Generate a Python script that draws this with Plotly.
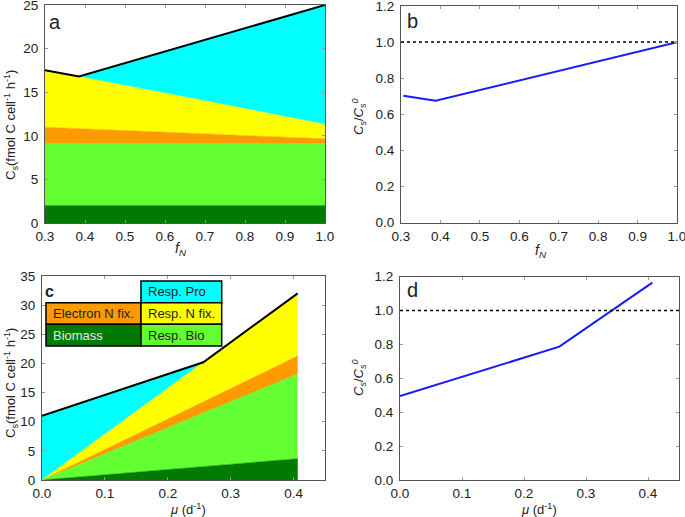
import plotly.graph_objects as go

# ---------------- data ----------------
# panel a : components vs f_N
fN_a = [0.30, 0.385, 1.0]
biomass_a = [2.0, 2.0, 2.0]
resp_bio_a = [7.1, 7.1, 7.1]
elec_nfix_a = [1.89, 1.73, 0.55]
resp_nfix_a = [6.54, 5.97, 1.68]
resp_pro_a = [0.0, 0.0, 13.67]
total_a = [17.53, 16.80, 25.0]

# panel b : Cs/Cs0 vs f_N
fN_b = [0.306, 0.388, 1.0]
ratio_b = [0.703, 0.675, 1.0]

# panel c : components vs mu
mu_c = [0.0, 0.2565, 0.4066]
biomass_c = [0.0, 2.31, 3.66]
resp_bio_c = [0.0, 9.16, 14.52]
elec_nfix_c = [0.0, 1.95, 3.09]
resp_nfix_c = [0.0, 6.78, 10.75]
resp_pro_c = [11.0, 0.0, 0.0]
total_c = [11.0, 20.2, 32.02]

# panel d : Cs/Cs0 vs mu
mu_d = [0.0, 0.257, 0.407]
ratio_d = [0.495, 0.787, 1.165]

names = ["Biomass", "Resp. Bio", "Electron N fix.", "Resp. N fix.", "Resp. Pro"]
colors = ["#007A00", "#63FF33", "#FF9A00", "#FFFF00", "#00FFFF"]

FONT = "Liberation Sans, Arial, sans-serif"
W, H = 685, 517

def px_x(a, b):
    return [a / W, b / W]

def px_y(top, bottom):
    return [1 - bottom / H, 1 - top / H]

fig = go.Figure()

comps_a = [biomass_a, resp_bio_a, elec_nfix_a, resp_nfix_a, resp_pro_a]
for nm, col, vals in zip(names, colors, comps_a):
    fig.add_trace(go.Scatter(x=fN_a, y=vals, stackgroup="a", mode="lines",
                             line=dict(width=0.5, color=col), fillcolor=col,
                             name=nm, showlegend=False, xaxis="x", yaxis="y"))
fig.add_trace(go.Scatter(x=fN_a, y=total_a, mode="lines", line=dict(color="black", width=2),
                         showlegend=False, xaxis="x", yaxis="y"))

fig.add_trace(go.Scatter(x=fN_b, y=ratio_b, mode="lines", line=dict(color="#1a1aff", width=2),
                         showlegend=False, xaxis="x2", yaxis="y2"))

comps_c = [biomass_c, resp_bio_c, elec_nfix_c, resp_nfix_c, resp_pro_c]
for nm, col, vals in zip(names, colors, comps_c):
    fig.add_trace(go.Scatter(x=mu_c, y=vals, stackgroup="c", mode="lines",
                             line=dict(width=0.5, color=col), fillcolor=col,
                             name=nm, showlegend=False, xaxis="x3", yaxis="y3"))
fig.add_trace(go.Scatter(x=mu_c, y=total_c, mode="lines", line=dict(color="black", width=2),
                         showlegend=False, xaxis="x3", yaxis="y3"))

fig.add_trace(go.Scatter(x=mu_d, y=ratio_d, mode="lines", line=dict(color="#1a1aff", width=2),
                         showlegend=False, xaxis="x4", yaxis="y4"))

axcommon = dict(showgrid=False, zeroline=False, showline=True, linecolor="#555", linewidth=1,
                mirror="ticks", ticks="inside", ticklen=3, tickcolor="#999", automargin=False,
                ticklabeloverflow="allow",
                tickfont=dict(family=FONT, size=13.5, color="#222"))
xcommon = dict(ticklabelstandoff=1, **axcommon)
ycommon = dict(ticklabelstandoff=3, **axcommon)

fig.update_layout(
    template="none",
    width=W, height=H, margin=dict(l=0, r=0, t=0, b=0, pad=0),
    paper_bgcolor="white", plot_bgcolor="white", showlegend=False,
    xaxis=dict(domain=px_x(45, 325), range=[0.3, 1.0], dtick=0.1, tickformat=".1f",
               anchor="y", **xcommon),
    yaxis=dict(domain=px_y(5, 223), range=[0, 25], dtick=5, anchor="x", **ycommon),
    xaxis2=dict(domain=px_x(401, 677), range=[0.3, 1.0], dtick=0.1, tickformat=".1f",
                anchor="y2", **xcommon),
    yaxis2=dict(domain=px_y(6, 222.7), range=[0, 1.2], dtick=0.2, tickformat=".1f",
                anchor="x2", **ycommon),
    xaxis3=dict(domain=px_x(42, 325), range=[0, 0.45], tickvals=[0, 0.1, 0.2, 0.3, 0.4],
                tickformat=".1f", anchor="y3", **xcommon),
    yaxis3=dict(domain=px_y(276, 480), range=[0, 35], dtick=5, anchor="x3", **ycommon),
    xaxis4=dict(domain=px_x(400, 679), range=[0, 0.45], tickvals=[0, 0.1, 0.2, 0.3, 0.4],
                tickformat=".1f", anchor="y4", **xcommon),
    yaxis4=dict(domain=px_y(276.7, 480), range=[0, 1.2], dtick=0.2, tickformat=".1f",
                anchor="x4", **ycommon),
)

shapes = []
for xa, ya in [("x2", "y2"), ("x4", "y4")]:
    shapes.append(dict(type="line", xref=f"{xa} domain", yref=ya, x0=0, x1=1, y0=1, y1=1,
                       line=dict(color="black", width=1.5, dash="dot")))

# legend table in panel c (domain-relative positions)
cx = [0.0141, 0.3498, 0.635]
cy = [0.9755, 0.869, 0.7632, 0.6569]
cells = [
    (1, 0, "Resp. Pro", colors[4], "#222"),
    (0, 1, "Electron N fix.", colors[2], "#222"),
    (1, 1, "Resp. N fix.", colors[3], "#222"),
    (0, 2, "Biomass", colors[0], "#e8e8e8"),
    (1, 2, "Resp. Bio", colors[1], "#222"),
]
annotations = []
for col, row, txt, fc, tc in cells:
    shapes.append(dict(type="rect", xref="x3 domain", yref="y3 domain",
                       x0=cx[col], x1=cx[col + 1], y0=cy[row + 1], y1=cy[row],
                       fillcolor=fc, line=dict(color="black", width=1.5), layer="above"))
    annotations.append(dict(xref="x3 domain", yref="y3 domain", x=cx[col] + 0.018,
                            y=(cy[row] + cy[row + 1]) / 2, text=txt, showarrow=False,
                            xanchor="left", yanchor="middle",
                            font=dict(family=FONT, size=13, color=tc)))

def ann(xp, yp, text, size=13, angle=0, **kw):
    annotations.append(dict(xref="paper", yref="paper", x=xp / W, y=1 - yp / H, text=text,
                            showarrow=False, textangle=angle, xanchor="center", yanchor="middle",
                            font=dict(family=FONT, size=size, color="#222"), **kw))

ann(55, 22, "a", size=20)
ann(413, 21, "b", size=20)
ann(50, 291, "<b>c</b>", size=16)
ann(413, 290, "d", size=20)

ytitle_cs = "C<sub>s</sub>(fmol C cell<sup>-1</sup> h<sup>-1</sup>)"
ytitle_ratio = "<i>C<sub>s</sub></i>/<i>C<sub>s</sub><sup>0</sup></i>"
ann(11, 125, ytitle_cs, size=13, angle=-90)
ann(11, 383, ytitle_cs, size=13, angle=-90)
ann(359, 117, ytitle_ratio, size=13, angle=-90)
ann(359, 378, ytitle_ratio, size=13, angle=-90)
ann(181, 249, "<i>f<sub>N</sub></i>", size=14)
ann(541, 251, "<i>f<sub>N</sub></i>", size=14)
ann(188, 509, "<i>μ</i> (d<sup>-1</sup>)", size=13)
ann(539, 509, "<i>μ</i> (d<sup>-1</sup>)", size=13)

fig.update_layout(shapes=shapes, annotations=annotations)
fig.write_html("out.html", config={"displayModeBar": False},
               post_script="document.body.style.margin='0px';")
